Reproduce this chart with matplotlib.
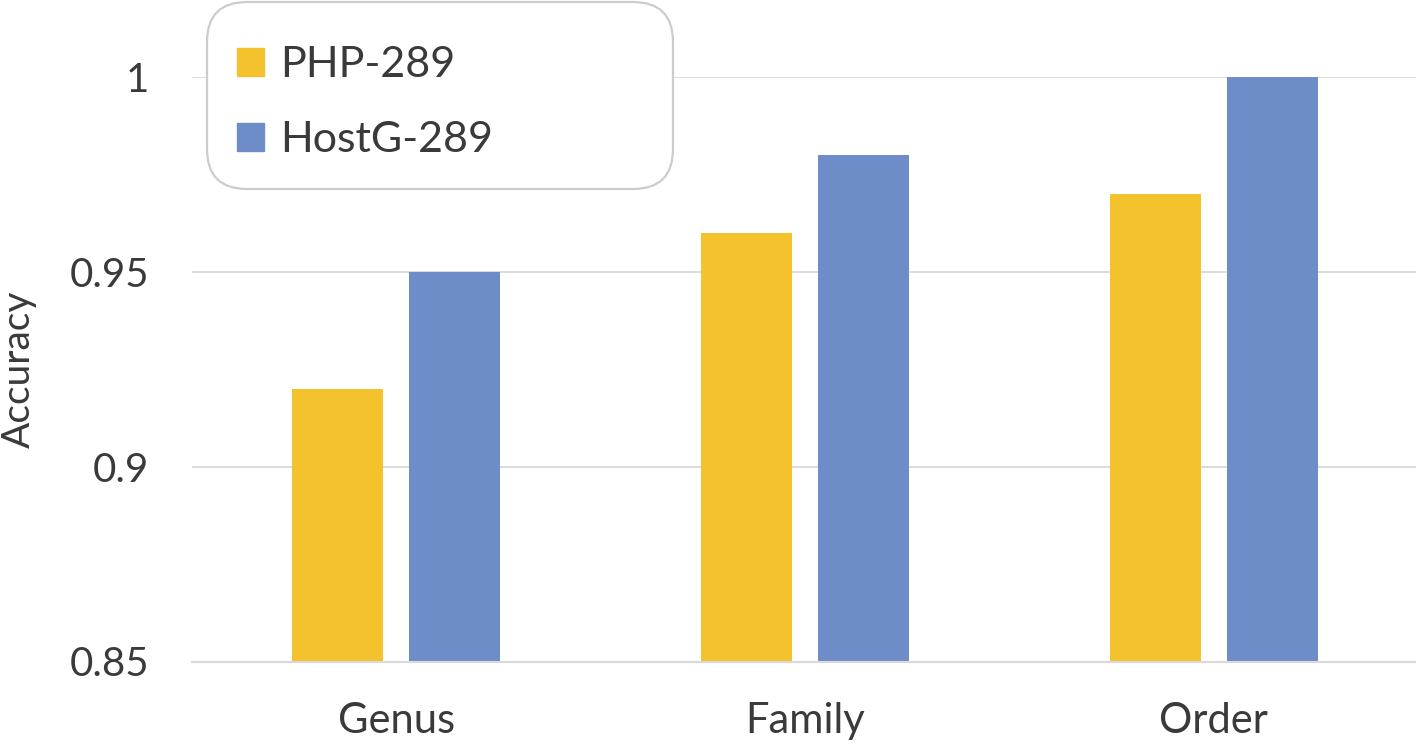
import numpy as np
import matplotlib.pyplot as plt
from matplotlib.patches import FancyBboxPatch, Patch

plt.rcParams['font.family'] = ['Lato', 'DejaVu Sans']

categories = ["Genus", "Family", "Order"]
php_acc = [0.92, 0.96, 0.97]
hostg_acc = [0.95, 0.98, 1.00]
y_ticks = [0.85, 0.9, 0.95, 1.0]
y_tick_labels = ["0.85", "0.9", "0.95", "1"]

PHP_COLOR = '#F3C22C'
HOSTG_COLOR = '#6D8CC8'
TEXT_COLOR = '#3a3a3a'
GRID_COLOR = '#d9d9d9'


def main():
    fig = plt.figure(figsize=(14.16, 7.44), dpi=100)
    ax = fig.add_axes([192 / 1416, 82.5 / 744, 1226 / 1416, 584.5 / 744])

    x = np.arange(len(categories))
    width = 0.223
    offset = 0.143
    ax.bar(x - offset, php_acc, width, color=PHP_COLOR, zorder=3)
    ax.bar(x + offset, hostg_acc, width, color=HOSTG_COLOR, zorder=3)

    ax.set_xlim(-0.5, 2.5)
    ax.set_ylim(0.85, 1.0)
    ax.set_yticks(y_ticks)
    ax.set_yticklabels(y_tick_labels)
    ax.set_xticks(x)
    ax.set_xticklabels(categories)
    ax.tick_params(axis='y', length=0, pad=31, labelsize=29, labelcolor=TEXT_COLOR)
    ax.tick_params(axis='x', length=0, pad=29, labelsize=30, labelcolor=TEXT_COLOR)

    for s in ['top', 'right', 'left']:
        ax.spines[s].set_visible(False)
    ax.spines['bottom'].set_color(GRID_COLOR)
    ax.spines['bottom'].set_linewidth(1.5)
    ax.spines['bottom'].set_zorder(4)
    ax.yaxis.grid(True, color=GRID_COLOR, linewidth=1.3, zorder=0)
    ax.set_axisbelow(True)

    ax.set_ylabel('Accuracy', fontsize=28, color=TEXT_COLOR)
    ax.yaxis.set_label_coords(-0.1264, 0.5)

    # rounded legend box, larger than its entries like the original
    frame = FancyBboxPatch((2.07, 5.55), 4.66, 1.87, transform=fig.dpi_scale_trans,
                           boxstyle='round,pad=0,rounding_size=0.4',
                           facecolor='white', edgecolor='#cccccc', linewidth=1.6, zorder=5)
    fig.add_artist(frame)

    handles = [Patch(color=PHP_COLOR), Patch(color=HOSTG_COLOR)]
    leg = fig.legend(handles, ['PHP-289', 'HostG-289'], loc='upper left',
                     bbox_to_anchor=(237 / 1416, 1 - 46 / 744), fontsize=31, frameon=False,
                     handlelength=0.63, handleheight=0.63, handletextpad=0.37,
                     labelspacing=0.87, borderpad=0, borderaxespad=0)
    leg.set_zorder(6)
    for t in leg.get_texts():
        t.set_color(TEXT_COLOR)

    fig.savefig('out.png', dpi=100)


if __name__ == "__main__":
    main()
